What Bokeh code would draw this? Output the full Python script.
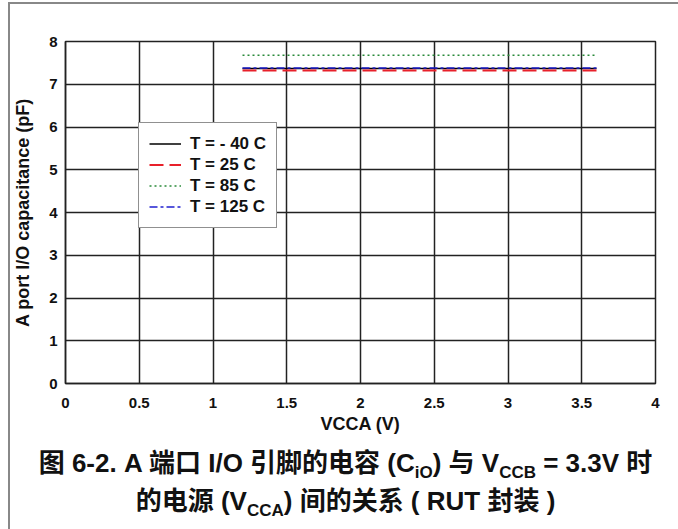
from bokeh.plotting import figure
from bokeh.models import Range1d, Legend, LegendItem, Div, FixedTicker
from bokeh.layouts import column
from bokeh.embed import file_html
from bokeh.resources import INLINE

# ---- data ----
vcca = [1.2, 3.6]
c_m40 = [7.37, 7.37]
c_25 = [7.32, 7.32]
c_85 = [7.68, 7.68]
c_125 = [7.38, 7.38]
series_labels = ["T = - 40 C", "T = 25 C", "T = 85 C", "T = 125 C"]
x_ticks = [0, 0.5, 1, 1.5, 2, 2.5, 3, 3.5, 4]
x_tick_labels = ["0", "0.5", "1", "1.5", "2", "2.5", "3", "3.5", "4"]
y_ticks = [0, 1, 2, 3, 4, 5, 6, 7, 8]

FONT = "Liberation Sans"

p = figure(width=661, height=439, output_backend="svg", toolbar_location=None,
           x_range=Range1d(0, 4), y_range=Range1d(0, 8),
           min_border_left=54, min_border_right=16, min_border_top=37, min_border_bottom=60)
p.outline_line_color = "#222222"
p.outline_line_width = 1.5

for ax in (p.xaxis[0], p.yaxis[0]):
    ax.major_label_text_font = FONT
    ax.major_label_text_font_style = "bold"
    ax.major_label_text_font_size = "15px"
    ax.major_label_text_color = "#111111"
    ax.axis_label_text_font = FONT
    ax.axis_label_text_font_style = "bold"
    ax.axis_label_text_font_size = "18px"
    ax.axis_label_text_color = "#111111"
    ax.major_tick_out = 0
    ax.major_tick_in = 0
    ax.minor_tick_out = 0
    ax.minor_tick_in = 0
    ax.axis_line_color = "#222222"
    ax.axis_line_width = 1.5

p.xaxis.ticker = FixedTicker(ticks=x_ticks)
p.xaxis.major_label_overrides = {t: l for t, l in zip(x_ticks, x_tick_labels)}
p.yaxis.ticker = FixedTicker(ticks=y_ticks)
p.xaxis.axis_label = "VCCA (V)"
p.yaxis.axis_label = "A port I/O capacitance (pF)"
p.xaxis.major_label_standoff = 14
p.xaxis.axis_label_standoff = 3
p.yaxis.major_label_standoff = 8
p.yaxis.axis_label_standoff = 13

for g in (p.xgrid[0], p.ygrid[0]):
    g.grid_line_color = "#222222"
    g.grid_line_width = 1.5
    g.grid_line_alpha = 1.0

r1 = p.line(vcca, c_m40, line_color="black", line_width=1.5)
r2 = p.line(vcca, c_25, line_color="#e8202a", line_width=2, line_dash="14 6")
r3 = p.line(vcca, c_85, line_color="#2a8a3a", line_width=1.5, line_dash="2 3")
r4 = p.line(vcca, c_125, line_color="#2020d0", line_width=1.5, line_dash="8 3 3 3")

legend = Legend(items=[LegendItem(label=series_labels[i], renderers=[r])
                       for i, r in enumerate([r1, r2, r3, r4])],
                location=(73, 155))
legend.label_text_font = FONT
legend.label_text_font_style = "bold"
legend.label_text_font_size = "17px"
legend.label_text_color = "#111111"
legend.glyph_width = 32
legend.glyph_height = 21
legend.label_height = 21
legend.label_standoff = 9
legend.spacing = 0
legend.padding = 10
legend.margin = 0
legend.border_line_color = "#222222"
legend.border_line_width = 1.5
legend.background_fill_alpha = 1
p.add_layout(legend)

SUB = '<span style="font-size:17px;position:relative;top:6px;line-height:0">'
caption = Div(text=(
    '<div style="width:661px;margin:-4px 0 0 0;padding:0;text-align:center;'
    'font-family:\'Liberation Sans\',\'Noto Sans CJK SC\',sans-serif;'
    'font-weight:bold;font-size:26px;line-height:38px;color:#111;">'
    '图 6-2. A 端口 I/O 引脚的电容 (C' + SUB + 'iO</span>) 与 '
    'V' + SUB + 'CCB</span> = 3.3V 时<br>'
    '的电源 (V' + SUB + 'CCA</span>) 间的关系 ( RUT 封装 )</div>'),
    width=661, height=84)

layout = column(p, caption, styles={"margin-left": "8px", "margin-top": "2px",
                                     "border-left": "2px solid #888888",
                                     "border-top": "2px solid #888888",
                                     "border-right": "2px solid #888888"})

open("out.html", "w").write(file_html(layout, INLINE))
